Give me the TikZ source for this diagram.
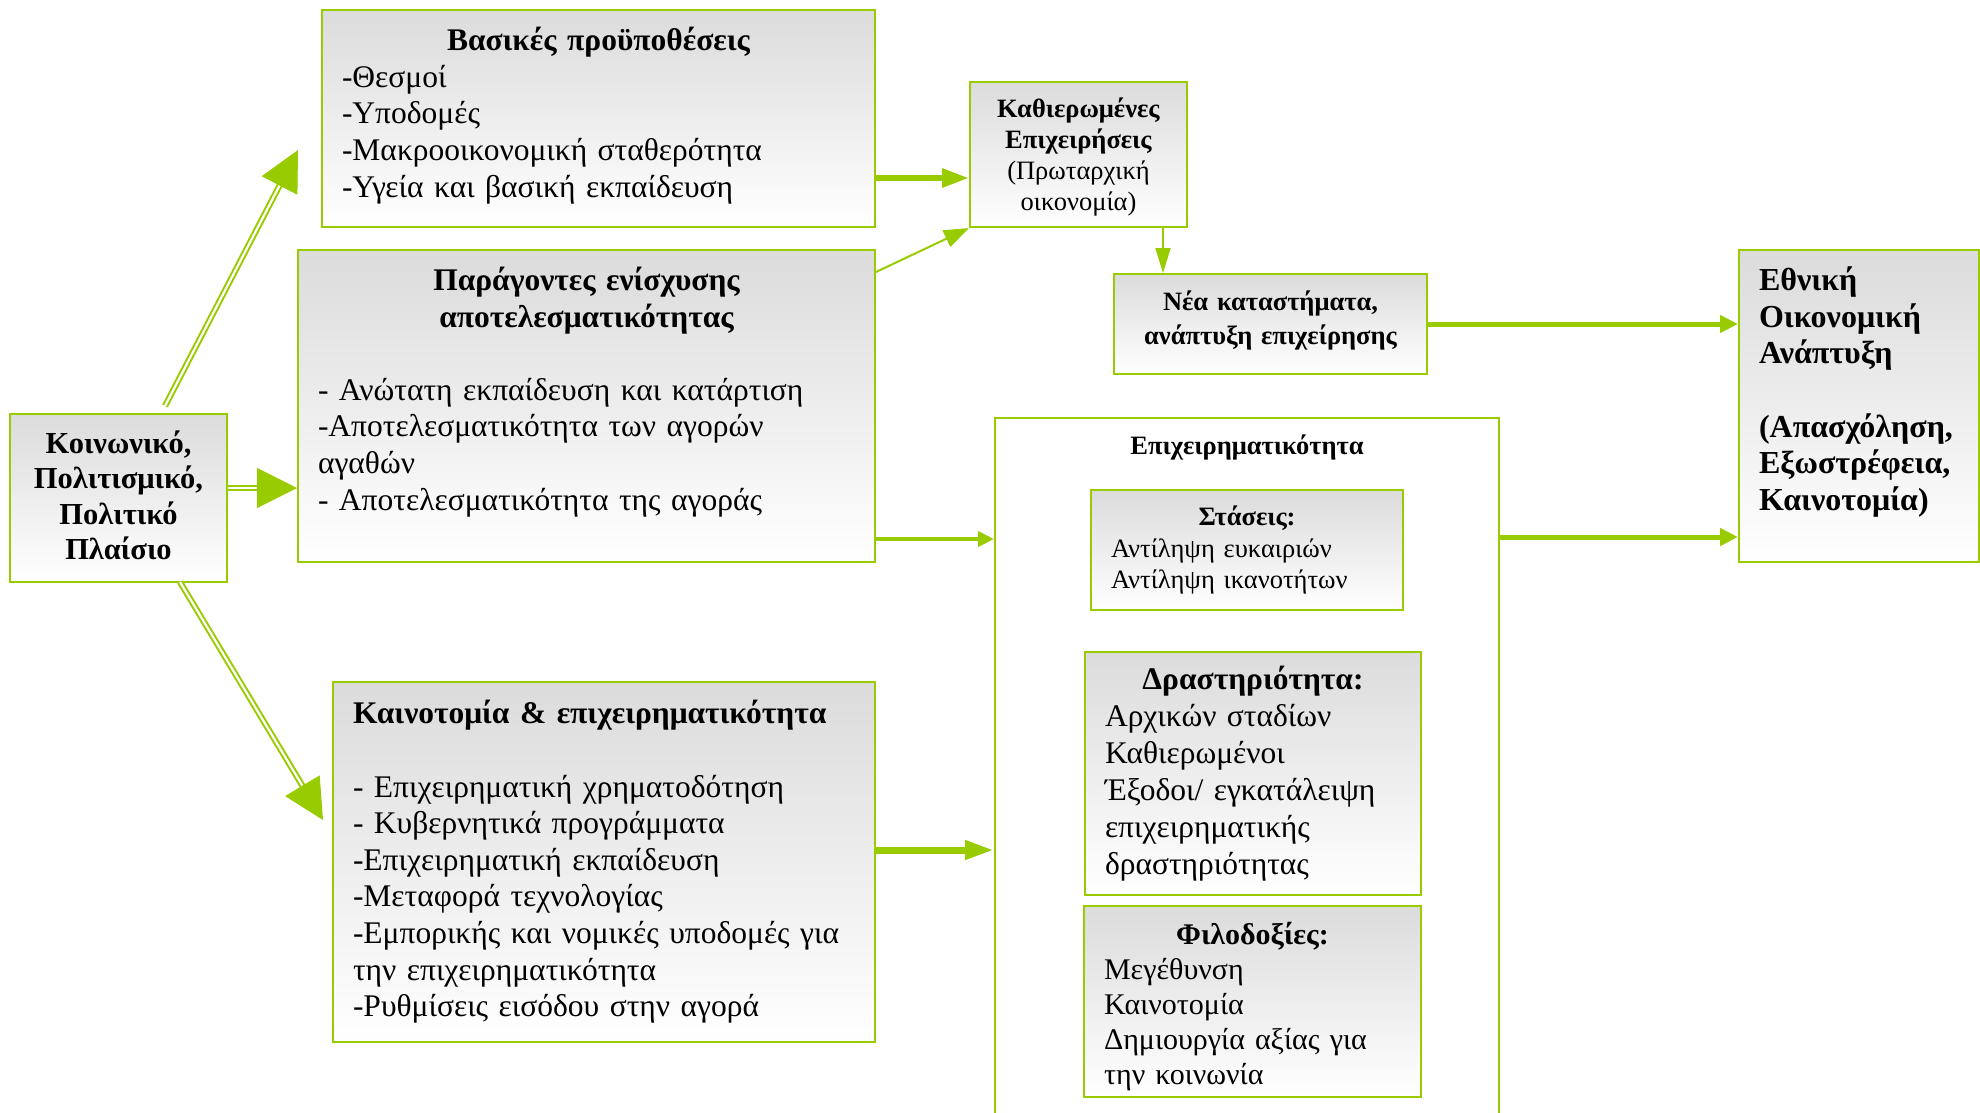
\documentclass[tikz,border=0pt]{standalone}
\usepackage{fontspec}
\setmainfont{Liberation Serif}
\usetikzlibrary{arrows.meta,calc}
\definecolor{leafgreen}{HTML}{99CC00}

\tikzset{
  panel/.style={rectangle, draw=leafgreen, line width=2pt,
    top color=black!14, bottom color=white,
    inner xsep=20pt, inner ysep=4pt, align=left},
  bigtext/.style={font=\fontsize{31.5}{36.6}\selectfont},
  smalltext/.style={font=\fontsize{26.5}{31}\selectfont},
  dblline/.style={draw=leafgreen, line width=2pt, double=white, double distance=2.2pt},
  bighead/.style={leafgreen, line width=1pt, -{Triangle[length=40pt,width=40pt]}},
  linkarrow/.style={leafgreen, line width=#1},
  linkarrow/.default=2pt
}

\begin{document}
\begin{tikzpicture}[x=1pt, y=-1pt]
\useasboundingbox (0,0) rectangle (1980,1112);

% boxes
\node[panel, align=center, font=\fontsize{30.5}{35.4}\selectfont, text width=177pt, minimum height=168pt] (soc) at (118.5,498)
{\bfseries Κοινωνικό,\\Πολιτισμικό,\\Πολιτικό\\Πλαίσιο\par\kern5pt};

\node[panel, bigtext, text width=513pt, minimum height=217pt] (vasikes) at (598.5,118.5)
{{\centering\bfseries Βασικές προϋποθέσεις\par}
-Θεσμοί\\-Υποδομές\\-Μακροοικονομική σταθερότητα\\-Υγεία και βασική εκπαίδευση\par\kern6pt};

\node[panel, bigtext, text width=537pt, minimum height=312pt] (parag) at (586.5,406)
{{\centering\bfseries Παράγοντες ενίσχυσης\\αποτελεσματικότητας\par}
\mbox{}\\
- Ανώτατη εκπαίδευση και κατάρτιση\\
-Αποτελεσματικότητα των αγορών\\αγαθών\\
- Αποτελεσματικότητα της αγοράς\par\kern28pt};

\node[panel, bigtext, text width=502pt, minimum height=360pt] (kainot) at (604,862)
{\textbf{Καινοτομία \& επιχειρηματικότητα}\\
\mbox{}\\
- Επιχειρηματική χρηματοδότηση\\
- Κυβερνητικά προγράμματα\\
-Επιχειρηματική εκπαίδευση\\
-Μεταφορά τεχνολογίας\\
-Εμπορικής και νομικές υποδομές για\\
την επιχειρηματικότητα\\
-Ρυθμίσεις εισόδου στην αγορά};

\node[panel, smalltext, align=center, inner xsep=6pt, text width=205pt, minimum height=145pt] (kathier) at (1078.5,154.5)
{\textbf{Καθιερωμένες}\\\textbf{Επιχειρήσεις}\\(Πρωταρχική\\οικονομία)\par\kern-4pt};

\node[panel, align=center, font=\bfseries\fontsize{26.5}{34}\selectfont, text width=273pt, minimum height=100pt] (nea) at (1270.5,324)
{Νέα καταστήματα,\\ανάπτυξη επιχείρησης\par\kern7pt};

\node[panel, font=\fontsize{32}{36.7}\selectfont, text width=200pt, minimum height=312pt] (ethniki) at (1859,406)
{\bfseries Εθνική\\Οικονομική\\Ανάπτυξη\\\mbox{}\\(Απασχόληση,\\Εξωστρέφεια,\\Καινοτομία)\par\kern28pt};

% entrepreneurship frame
\node[draw=leafgreen, line width=2pt, minimum width=504pt, minimum height=712pt] (epix) at (1247,774) {};
\node[anchor=base, font=\bfseries\fontsize{26.5}{30}\selectfont] (epixtitle) at ([yshift=-37pt]epix.north)
{Επιχειρηματικότητα};

\node[panel, font=\fontsize{26.5}{31.6}\selectfont, text width=272pt, minimum height=120pt] (stasis) at (1247,550)
{{\centering\bfseries Στάσεις:\par}
Αντίληψη ευκαιριών\\Αντίληψη ικανοτήτων};

\node[panel, font=\fontsize{31.5}{37}\selectfont, text width=296pt, minimum height=243pt] (drast) at (1253,773.5)
{{\centering\bfseries Δραστηριότητα:\par}
Αρχικών σταδίων\\Καθιερωμένοι\\Έξοδοι/ εγκατάλειψη\\επιχειρηματικής\\δραστηριότητας};

\node[panel, font=\fontsize{30}{35}\selectfont, text width=297pt, minimum height=191pt] (filod) at (1252.5,1001.5)
{{\centering\bfseries Φιλοδοξίες:\par}
Μεγέθυνση\\Καινοτομία\\Δημιουργία αξίας για\\την κοινωνία\par\kern-10pt};

% double arrows out of the context box
\coordinate (socA) at ($(soc.north)+(46.5,-7)$);
\coordinate (tipA) at (298,150);
\coordinate (socB) at ([yshift=10pt]soc.east);
\coordinate (tipB) at ([yshift=10pt]soc.east -| parag.west);
\coordinate (socC) at ($(soc.south)+(61.5,-1)$);
\coordinate (tipC) at (323,820);

\foreach \from/\to in {socA/tipA, socB/tipB, socC/tipC}{
  \draw[dblline, shorten >=36pt] (\from) -- (\to);
  \draw[bighead] ($(\to)!40pt!(\from)$) -- (\to);
}

% single arrows
\draw[linkarrow=6pt, -{Triangle[length=27pt,width=18pt]}]
  ([yshift=-59.5pt]vasikes.east) -- ([yshift=-59.5pt]vasikes.east -| kathier.west);
\draw[linkarrow, -{Triangle[length=25pt,width=18pt]}]
  ([yshift=-23pt]parag.north east) -- (kathier.south west);
\draw[linkarrow, -{Triangle[length=25pt,width=15pt]}]
  ([xshift=84.5pt]kathier.south) -- ([xshift=84.5pt]kathier.south |- nea.north);
\draw[linkarrow=5pt, -{Triangle[length=18pt,width=17pt]}]
  (nea.east) -- (nea.east -| ethniki.west);
\draw[linkarrow=5pt, -{Triangle[length=18pt,width=17pt]}]
  ([yshift=-120pt]epix.north east) -- ([yshift=-120pt]epix.north east -| ethniki.west);
\draw[linkarrow=4pt, -{Triangle[length=16pt,width=15pt]}]
  ([yshift=24pt]parag.south east) -- ([yshift=24pt]parag.south east -| epix.west);
\draw[linkarrow=7pt, -{Triangle[length=29pt,width=18pt]}]
  ([yshift=12pt]kainot.east) -- ([yshift=12pt]kainot.east -| epix.west);
\end{tikzpicture}
\end{document}
